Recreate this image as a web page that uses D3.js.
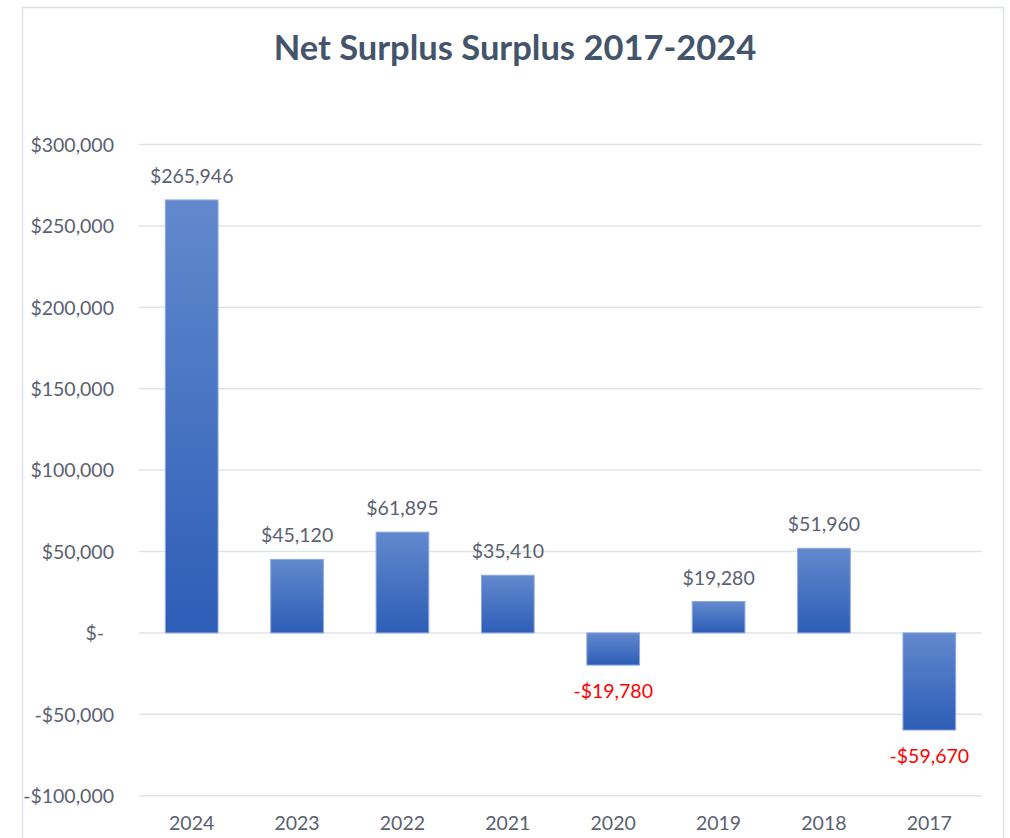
<!DOCTYPE html>
<html>
<head>
<meta charset="utf-8">
<script src="https://cdn.jsdelivr.net/npm/d3@7"></script>
<style>
  html, body { margin: 0; padding: 0; background: #fff; }
  svg { display: block; }
</style>
</head>
<body>
<svg id="chart" width="1010" height="838"></svg>
<script>
const categories = ["2024", "2023", "2022", "2021", "2020", "2019", "2018", "2017"];
const values = [265946, 45120, 61895, 35410, -19780, 19280, 51960, -59670];
const tickValues = [-100000, -50000, 0, 50000, 100000, 150000, 200000, 250000, 300000];
const titleText = "Net Surplus Surplus 2017-2024";

(function () {
const font = "Lato, 'Open Sans', sans-serif";
const svg = d3.select("#chart");

// chart frame
svg.append("rect")
  .attr("x", 22.5).attr("y", 7.5)
  .attr("width", 981).attr("height", 840)
  .attr("fill", "#fff")
  .attr("stroke", "#dde2ea").attr("stroke-width", 1.5);

const pLeft = 139, pRight = 982, pTop = 144.5, pBottom = 795.7;

const x = d3.scaleBand().domain(categories).range([pLeft, pRight])
  .paddingInner(0.5).paddingOuter(0.25);
const y = d3.scaleLinear().domain([-100000, 300000]).range([pBottom, pTop]);

// gradient
const defs = svg.append("defs");
const grad = defs.append("linearGradient").attr("id", "barGrad")
  .attr("x1", 0).attr("y1", 0).attr("x2", 0).attr("y2", 1);
grad.append("stop").attr("offset", "0%").attr("stop-color", "#6289cd");
grad.append("stop").attr("offset", "100%").attr("stop-color", "#2d5db7");

// gridlines
svg.append("g").selectAll("line").data(tickValues).join("line")
  .attr("x1", pLeft).attr("x2", pRight)
  .attr("y1", d => y(d)).attr("y2", d => y(d))
  .attr("stroke", "#dfe3ea").attr("stroke-width", 1.5);

const fmt = d => d === 0 ? "$-" : (d < 0 ? "-$" + d3.format(",")(-d) : "$" + d3.format(",")(d));

// y axis labels
const yAxis = d3.axisLeft(y).tickValues(tickValues).tickFormat(fmt).tickSize(0).tickPadding(0);
const yg = svg.append("g").attr("transform", "translate(114,0)").call(yAxis);
yg.select(".domain").remove();
yg.selectAll("text")
  .attr("font-family", font).attr("font-size", 19.5).attr("fill", "#5b6170")
  .attr("dy", "0.35em")
  .attr("dx", d => d === 0 ? -10 : 0);

// x axis labels
const xAxis = d3.axisBottom(x).tickSize(0).tickPadding(0);
const xg = svg.append("g").attr("transform", "translate(0,830)").call(xAxis);
xg.select(".domain").remove();
xg.selectAll("text")
  .attr("font-family", font).attr("font-size", 19.5).attr("fill", "#5b6170")
  .attr("y", 0).attr("dy", 0);

// bars
svg.append("g").selectAll("rect").data(values).join("rect")
  .attr("x", (d, i) => x(categories[i]))
  .attr("width", x.bandwidth())
  .attr("y", d => y(Math.max(0, d)))
  .attr("height", d => Math.abs(y(d) - y(0)))
  .attr("fill", "url(#barGrad)")
  .attr("stroke", "#8ea8dc").attr("stroke-width", 1);

// data labels
svg.append("g").selectAll("text").data(values).join("text")
  .attr("x", (d, i) => x(categories[i]) + x.bandwidth() / 2)
  .attr("y", d => d >= 0 ? y(d) - 17 : y(d) + 33)
  .attr("text-anchor", "middle")
  .attr("font-family", font).attr("font-size", 19.5)
  .attr("fill", d => d >= 0 ? "#5b6170" : "#ff0000")
  .text(d => fmt(d));

// title
svg.append("text")
  .attr("x", 515).attr("y", 60)
  .attr("text-anchor", "middle")
  .attr("font-family", font).attr("font-weight", "bold").attr("font-size", 34.5)
  .attr("fill", "#44546a")
  .text(titleText);
})();
</script>
</body>
</html>
